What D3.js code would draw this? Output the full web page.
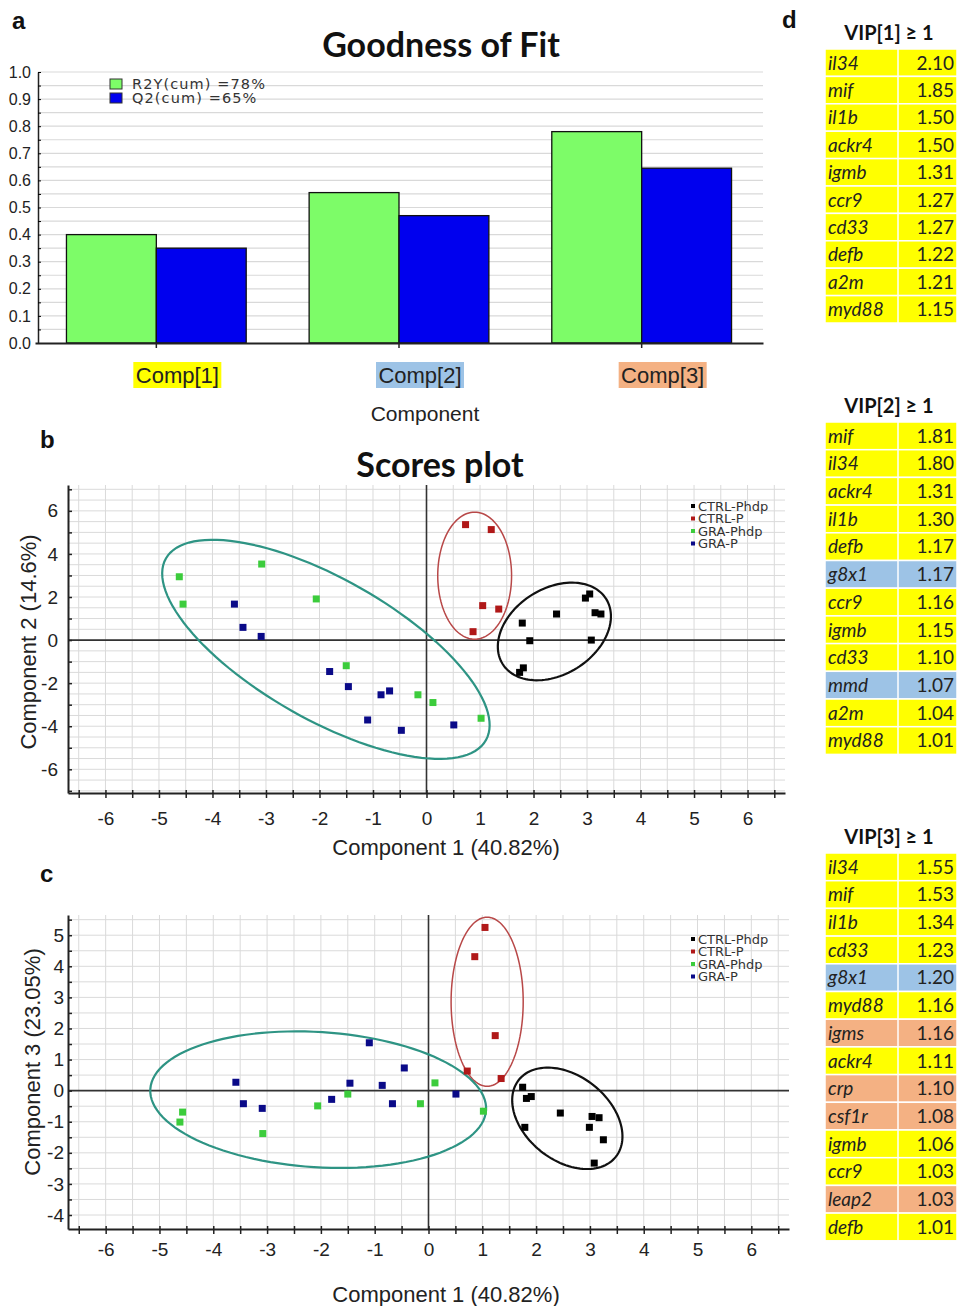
<!DOCTYPE html>
<html>
<head>
<meta charset="utf-8">
<script src="https://cdn.jsdelivr.net/npm/d3@7"></script>
<style>
  body { margin: 0; background: #fff; }
  .narrow { font-family: "Liberation Sans Narrow", "Arial Narrow", "Liberation Sans", sans-serif; }
  .calib { font-family: Lato, "Open Sans", sans-serif; }
  .verd { font-family: "DejaVu Sans", Verdana, sans-serif; }
</style>
</head>
<body>
<div id="chart"></div>
<script>
// ---- panel a : goodness of fit ----
var comps = ["Comp[1]", "Comp[2]", "Comp[3]"];
var r2yCum = [0.40, 0.555, 0.78];
var q2Cum = [0.35, 0.47, 0.645];
var compColors = ["#ffff00", "#9dc3e6", "#f4b183"];
var fitSeries = ["R2Y(cum) =78%", "Q2(cum) =65%"];
var fitColors = ["#7dfc68", "#0000ee"];

// ---- panels b, c : scores ----
var groups = ["CTRL-Phdp", "CTRL-P", "GRA-Phdp", "GRA-P"];
var groupColors = ["#000000", "#b01818", "#3ccc3c", "#0a0a88"];
var ellipseColors = ["#111111", "#b84848", "#2e9484"];

// component 1 vs component 2
var bCtrlPhdp = [[1.79, 0.79], [1.93, -0.03], [1.81, -1.29], [1.74, -1.50], [2.43, 1.21],
                 [2.97, 1.95], [3.05, 2.14], [3.15, 1.27], [3.26, 1.21], [3.08, 0.00]];
var bCtrlP = [[0.73, 5.36], [1.21, 5.13], [1.05, 1.60], [1.35, 1.44], [0.87, 0.39]];
var bGraPhdp = [[-4.62, 2.94], [-4.55, 1.67], [-3.08, 3.53], [-2.06, 1.91], [-1.50, -1.19],
                [-0.16, -2.54], [0.12, -2.90], [1.02, -3.63]];
var bGraP = [[-3.59, 1.67], [-3.43, 0.59], [-3.09, 0.17], [-1.81, -1.46], [-1.46, -2.16],
             [-0.85, -2.54], [-0.69, -2.36], [-1.10, -3.71], [-0.47, -4.19], [0.51, -3.94]];

// component 1 vs component 3
var cCtrlPhdp = [[1.75, 0.11], [1.82, -0.25], [1.91, -0.19], [1.79, -1.18], [2.45, -0.72],
                 [3.04, -0.83], [3.17, -0.87], [2.99, -1.18], [3.25, -1.58], [3.08, -2.33]];
var cCtrlP = [[1.05, 5.25], [0.86, 4.31], [1.24, 1.77], [0.72, 0.63], [1.35, 0.39]];
var cGraPhdp = [[-4.57, -0.69], [-4.62, -1.01], [-3.08, -1.38], [-2.06, -0.49], [-1.50, -0.11],
                [-0.15, -0.42], [0.12, 0.25], [1.02, -0.66]];
var cGraP = [[-3.58, 0.27], [-3.44, -0.42], [-3.09, -0.57], [-1.80, -0.28], [-1.46, 0.24],
             [-1.10, 1.54], [-0.86, 0.17], [-0.67, -0.42], [-0.45, 0.73], [0.51, -0.11]];

// confidence ellipses: centre x, centre y, then two conjugate semi-axis vectors (data units)
var bEllipseCtrl = [2.39, 0.40, 0.97, 1.50, 0.42, -1.70];
var bEllipseCtrlP = [0.90, 2.99, 0.69, 0.00, 0.00, 2.95];
var bEllipseGra = [-1.88, -0.43, 2.99, -4.22, -0.65, -2.84];
var cEllipseCtrl = [2.58, -0.89, 0.90, -1.24, -0.49, -1.06];
var cEllipseCtrlP = [1.09, 2.86, 0.67, 0.00, 0.00, 2.72];
var cEllipseGra = [-2.05, -0.29, 3.12, -0.34, -0.08, -2.17];

// ---- panel d : VIP tables ----
var vip1Genes = ["il34", "mif", "il1b", "ackr4", "igmb", "ccr9", "cd33", "defb", "a2m", "myd88"];
var vip1Values = [2.10, 1.85, 1.50, 1.50, 1.31, 1.27, 1.27, 1.22, 1.21, 1.15];
var vip2Genes = ["mif", "il34", "ackr4", "il1b", "defb", "g8x1", "ccr9", "igmb", "cd33", "mmd", "a2m", "myd88"];
var vip2Values = [1.81, 1.80, 1.31, 1.30, 1.17, 1.17, 1.16, 1.15, 1.10, 1.07, 1.04, 1.01];
var vip3Genes = ["il34", "mif", "il1b", "cd33", "g8x1", "myd88", "igms", "ackr4", "crp", "csf1r", "igmb", "ccr9", "leap2", "defb"];
var vip3Values = [1.55, 1.53, 1.34, 1.23, 1.20, 1.16, 1.16, 1.11, 1.10, 1.08, 1.06, 1.03, 1.03, 1.01];

var W = 958, H = 1306;
var svg = d3.select("#chart").append("svg")
    .attr("width", W)
    .attr("height", H)
    .style("background", "#fff");

function minus(d) { return String(d); }

// panel letters
[["a", 12, 29], ["b", 40, 448], ["c", 40, 882], ["d", 782, 28]].forEach(function (p) {
    svg.append("text")
        .attr("x", p[1]).attr("y", p[2])
        .attr("font-family", "Liberation Sans, Arial, sans-serif")
        .attr("font-weight", "bold")
        .attr("font-size", "24px")
        .attr("fill", "#111")
        .text(p[0]);
});

/**
 * PANEL A
 */
var gA = svg.append("g");
var xA = d3.scaleBand().domain(comps).range([35, 763]);
var xA1 = d3.scaleBand().domain([0, 1]).range([0, xA.bandwidth()]).paddingOuter(0.35);
var yA = d3.scaleLinear().domain([0, 1]).range([343, 72]);

// grid every 0.05
gA.append("g").selectAll("line")
    .data(d3.range(0.05, 1.001, 0.05))
    .enter().append("line")
    .attr("x1", 38).attr("x2", 763)
    .attr("y1", function (d) { return yA(d); })
    .attr("y2", function (d) { return yA(d); })
    .attr("stroke", "#d9d9d9")
    .attr("stroke-width", 1.2);

gA.append("text")
    .attr("x", 441).attr("y", 57)
    .attr("class", "calib")
    .attr("text-anchor", "middle")
    .attr("font-weight", "bold")
    .attr("font-size", "34px")
    .attr("fill", "#111")
    .text("Goodness of Fit");

// bars
var barData = [];
comps.forEach(function (c, i) {
    barData.push({ comp: c, s: 0, v: r2yCum[i] });
    barData.push({ comp: c, s: 1, v: q2Cum[i] });
});
gA.append("g").selectAll("rect")
    .data(barData)
    .enter().append("rect")
    .attr("x", function (d) { return xA(d.comp) + xA1(d.s); })
    .attr("width", xA1.bandwidth())
    .attr("y", function (d) { return yA(d.v); })
    .attr("height", function (d) { return yA(0) - yA(d.v); })
    .attr("fill", function (d) { return fitColors[d.s]; })
    .attr("stroke", "#111")
    .attr("stroke-width", 1.3);

// y axis with minor ticks
var yAxisA = gA.append("g")
    .attr("transform", "translate(38,0)")
    .call(d3.axisLeft(yA).tickValues(d3.range(0, 1.001, 0.05)).tickSize(4).tickSizeOuter(0).tickFormat(""));
yAxisA.selectAll(".tick line").attr("x2", 3);
gA.append("g")
    .attr("transform", "translate(38,0)")
    .call(d3.axisLeft(yA).tickValues(d3.range(0, 1.001, 0.1)).tickSize(0).tickPadding(7).tickFormat(d3.format(".1f")))
    .call(function (g) { g.select(".domain").remove(); })
    .selectAll("text")
    .attr("class", "narrow")
    .attr("font-size", "16px")
    .attr("fill", "#222");
yAxisA.select(".domain").attr("stroke", "#222").attr("stroke-width", 1.5);

// x axis
var xAxisA = gA.append("g")
    .attr("transform", "translate(0," + yA(0) + ")")
    .call(d3.axisBottom(xA).tickSize(5).tickSizeOuter(0).tickFormat(""));
xAxisA.select(".domain").attr("stroke", "#222").attr("stroke-width", 1.8);
xAxisA.selectAll(".tick line").attr("stroke", "#222").attr("stroke-width", 1.5);

// coloured category labels
var compLab = gA.append("g").selectAll("g")
    .data(comps)
    .enter().append("g")
    .attr("transform", function (d) { return "translate(" + (xA(d) + xA.bandwidth() / 2 + 21) + ",375)"; });
compLab.append("rect")
    .attr("x", -44).attr("y", -13)
    .attr("width", 88).attr("height", 26)
    .attr("fill", function (d, i) { return compColors[i]; });
compLab.append("text")
    .attr("class", "narrow")
    .attr("text-anchor", "middle")
    .attr("dy", "0.36em")
    .attr("font-size", "22px")
    .attr("fill", "#222")
    .text(function (d) { return d; });

gA.append("text")
    .attr("x", 425).attr("y", 421)
    .attr("class", "narrow")
    .attr("text-anchor", "middle")
    .attr("font-size", "21px")
    .attr("fill", "#222")
    .text("Component");

// legend
var legA = gA.append("g").selectAll("g")
    .data(fitSeries)
    .enter().append("g")
    .attr("transform", function (d, i) { return "translate(110," + (79 + i * 14) + ")"; });
legA.append("rect")
    .attr("width", 12).attr("height", 10)
    .attr("fill", function (d, i) { return fitColors[i]; })
    .attr("stroke", "#333");
legA.append("text")
    .attr("x", 22).attr("y", 10)
    .attr("class", "verd")
    .attr("font-size", "14.5px")
    .attr("letter-spacing", "1.1px")
    .attr("fill", "#333")
    .text(function (d) { return d; });

/**
 * PANELS B AND C
 */
function ellipsePath(x, y, e) {
    var pts = d3.range(0, 360, 3).map(function (a) {
        var t = a * Math.PI / 180;
        return [x(e[0] + Math.cos(t) * e[2] + Math.sin(t) * e[4]),
                y(e[1] + Math.cos(t) * e[3] + Math.sin(t) * e[5])];
    });
    return d3.line().curve(d3.curveLinearClosed)(pts);
}

function drawScores(opt) {
    var g = svg.append("g");
    var x = d3.scaleLinear().domain([-6.7, 6.7]).range([opt.left, opt.right]);
    var y = d3.scaleLinear().domain(opt.yDomain).range([opt.bottom, opt.top]);

    // grid every half unit
    g.append("g").selectAll("line")
        .data(d3.range(-6.5, 6.51, 0.5))
        .enter().append("line")
        .attr("x1", function (d) { return x(d); })
        .attr("x2", function (d) { return x(d); })
        .attr("y1", opt.top).attr("y2", opt.bottom)
        .attr("stroke", "#dadada");
    g.append("g").selectAll("line")
        .data(d3.range(Math.ceil(opt.yDomain[0] * 2) / 2, opt.yDomain[1], 0.5))
        .enter().append("line")
        .attr("x1", opt.left).attr("x2", opt.right)
        .attr("y1", function (d) { return y(d); })
        .attr("y2", function (d) { return y(d); })
        .attr("stroke", "#dadada");

    // zero lines
    g.append("line")
        .attr("x1", opt.left).attr("x2", opt.right)
        .attr("y1", y(0)).attr("y2", y(0))
        .attr("stroke", "#333").attr("stroke-width", 1.6);
    g.append("line")
        .attr("x1", x(0)).attr("x2", x(0))
        .attr("y1", opt.top).attr("y2", opt.bottom)
        .attr("stroke", "#333").attr("stroke-width", 1.6);

    // axes
    var xAx = g.append("g")
        .attr("transform", "translate(0," + opt.bottom + ")")
        .call(d3.axisBottom(x).tickValues(d3.range(-6.5, 6.51, 0.5)).tickSize(5).tickSizeOuter(0).tickFormat(""));
    xAx.selectAll(".tick line").attr("y1", -3).attr("stroke", "#222").attr("stroke-width", 1.5);
    xAx.select(".domain").attr("stroke", "#222").attr("stroke-width", 2);
    g.append("g")
        .attr("transform", "translate(0," + opt.bottom + ")")
        .call(d3.axisBottom(x).tickValues(d3.range(-6, 6.1, 1)).tickSize(0).tickPadding(opt.xPad).tickFormat(minus))
        .call(function (s) { s.select(".domain").remove(); })
        .selectAll("text")
        .attr("class", "narrow")
        .attr("font-size", "19px")
        .attr("fill", "#222");

    var yAx = g.append("g")
        .attr("transform", "translate(" + opt.left + ",0)")
        .call(d3.axisLeft(y).tickValues(opt.yTicks).tickSize(4).tickSizeOuter(0).tickFormat(""));
    yAx.selectAll(".tick line").attr("x2", 4).attr("stroke", "#222").attr("stroke-width", 1.5);
    yAx.select(".domain").attr("stroke", "#222").attr("stroke-width", 2);
    g.append("g")
        .attr("transform", "translate(" + opt.left + ",0)")
        .call(d3.axisLeft(y).tickValues(opt.yLabels).tickSize(0).tickPadding(opt.yPad).tickFormat(minus))
        .call(function (s) { s.select(".domain").remove(); })
        .selectAll("text")
        .attr("class", "narrow")
        .attr("font-size", "19px")
        .attr("fill", "#222");

    // axis titles
    g.append("text")
        .attr("x", 446).attr("y", opt.xTitleY)
        .attr("class", "narrow")
        .attr("text-anchor", "middle")
        .attr("font-size", "22px")
        .attr("fill", "#222")
        .text("Component 1 (40.82%)");
    g.append("text")
        .attr("transform", "translate(" + opt.yTitleX + "," + opt.yTitleMid + ") rotate(-90)")
        .attr("class", "narrow")
        .attr("text-anchor", "middle")
        .attr("font-size", "22px")
        .attr("fill", "#222")
        .text(opt.yTitle);

    // ellipses
    g.append("g").selectAll("path")
        .data(opt.ellipses)
        .enter().append("path")
        .attr("d", function (e) { return ellipsePath(x, y, e); })
        .attr("fill", "none")
        .attr("stroke", function (e, i) { return ellipseColors[i]; })
        .attr("stroke-width", function (e, i) { return i === 1 ? 1.5 : 2.2; });

    // points
    var pts = [];
    opt.series.forEach(function (s, gi) {
        s.forEach(function (p) { pts.push({ x: p[0], y: p[1], g: gi }); });
    });
    g.append("g").selectAll("rect")
        .data(pts)
        .enter().append("rect")
        .attr("x", function (d) { return x(d.x) - 3.5; })
        .attr("y", function (d) { return y(d.y) - 3.5; })
        .attr("width", 7).attr("height", 7)
        .attr("fill", function (d) { return groupColors[d.g]; });

    // legend
    var leg = g.append("g").selectAll("g")
        .data(groups)
        .enter().append("g")
        .attr("transform", function (d, i) { return "translate(691," + (opt.legendY + i * 12.5) + ")"; });
    leg.append("rect")
        .attr("x", 0).attr("y", -2)
        .attr("width", 4).attr("height", 4)
        .attr("fill", function (d, i) { return groupColors[i]; });
    leg.append("text")
        .attr("x", 7).attr("dy", "0.36em")
        .attr("class", "verd")
        .attr("font-size", "13px")
        .attr("fill", "#333")
        .text(function (d) { return d; });
    return g;
}

var gB = drawScores({
    left: 68, right: 785, top: 485, bottom: 793,
    yDomain: [-7.1, 7.2],
    yTicks: d3.range(-7, 7.1, 1),
    yLabels: [-6, -4, -2, 0, 2, 4, 6],
    yPad: 10, xPad: 19,
    xTitleY: 855, yTitleX: 36, yTitleMid: 642,
    yTitle: "Component 2 (14.6%)",
    legendY: 506,
    ellipses: [bEllipseCtrl, bEllipseCtrlP, bEllipseGra],
    series: [bCtrlPhdp, bCtrlP, bGraPhdp, bGraP]
});
gB.append("text")
    .attr("x", 440).attr("y", 477)
    .attr("class", "calib")
    .attr("text-anchor", "middle")
    .attr("font-weight", "bold")
    .attr("font-size", "34px")
    .attr("fill", "#111")
    .text("Scores plot");

drawScores({
    left: 68, right: 789, top: 915, bottom: 1229,
    yDomain: [-4.45, 5.65],
    yTicks: d3.range(-4, 5.6, 0.5),
    yLabels: d3.range(-4, 5.1, 1),
    yPad: 4, xPad: 14,
    xTitleY: 1302, yTitleX: 40, yTitleMid: 1062,
    yTitle: "Component 3 (23.05%)",
    legendY: 939,
    ellipses: [cEllipseCtrl, cEllipseCtrlP, cEllipseGra],
    series: [cCtrlPhdp, cCtrlP, cGraPhdp, cGraP]
});

/**
 * PANEL D
 */
// colour a gene by the first component whose VIP list holds it
function firstComp(gene) {
    if (vip1Genes.indexOf(gene) >= 0) return 0;
    if (vip2Genes.indexOf(gene) >= 0) return 1;
    return 2;
}

function drawTable(title, genes, values, top, rowH) {
    var g = svg.append("g");
    var left = 825, mid = 898, right = 957;
    g.append("text")
        .attr("x", 889).attr("y", top - 9)
        .attr("class", "calib")
        .attr("text-anchor", "middle")
        .attr("font-weight", "bold")
        .attr("font-size", "20px")
        .attr("fill", "#111")
        .text(title);
    var yT = d3.scaleBand().domain(d3.range(genes.length)).range([top, top + rowH * genes.length]);
    var row = g.selectAll("g.row")
        .data(genes)
        .enter().append("g")
        .attr("class", "row")
        .attr("transform", function (d, i) { return "translate(0," + yT(i) + ")"; });
    row.append("rect")
        .attr("x", left).attr("width", right - left)
        .attr("height", yT.bandwidth())
        .attr("fill", function (d) { return compColors[firstComp(d)]; })
        .attr("stroke", "#fff")
        .attr("stroke-width", 1.5);
    row.append("line")
        .attr("x1", mid).attr("x2", mid)
        .attr("y1", 0).attr("y2", yT.bandwidth())
        .attr("stroke", "#fff").attr("stroke-width", 1.5);
    row.append("text")
        .attr("x", left + 3).attr("y", yT.bandwidth() / 2)
        .attr("dy", "0.36em")
        .attr("class", "calib")
        .attr("font-style", "italic")
        .attr("font-size", "19px")
        .attr("fill", "#222")
        .text(function (d) { return d; });
    row.append("text")
        .attr("x", right - 3).attr("y", yT.bandwidth() / 2)
        .attr("dy", "0.36em")
        .attr("class", "calib")
        .attr("text-anchor", "end")
        .attr("font-size", "19px")
        .attr("fill", "#222")
        .text(function (d, i) { return values[i].toFixed(2); });
}

drawTable("VIP[1] \u2265 1", vip1Genes, vip1Values, 49, 27.4);
drawTable("VIP[2] \u2265 1", vip2Genes, vip2Values, 422, 27.7);
drawTable("VIP[3] \u2265 1", vip3Genes, vip3Values, 853, 27.7);
</script>
</body>
</html>
